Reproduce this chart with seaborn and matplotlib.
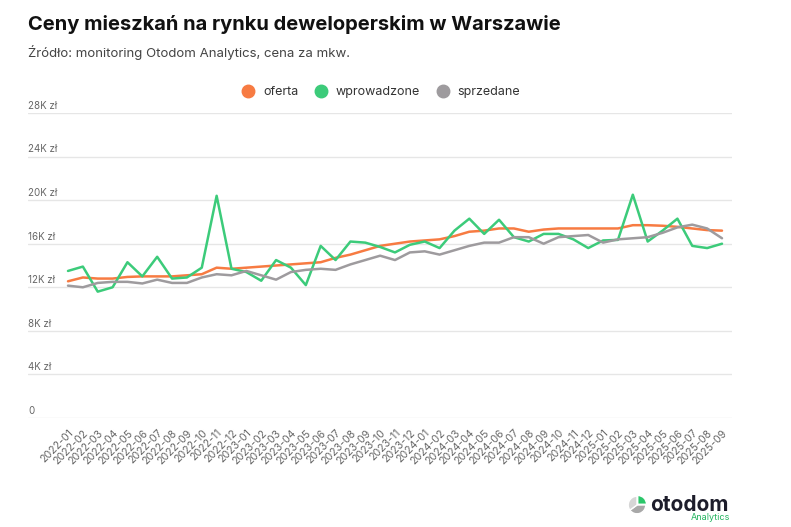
import matplotlib
matplotlib.use("Agg")
import matplotlib.pyplot as plt
import matplotlib.transforms as mtransforms
from matplotlib.lines import Line2D
import pandas as pd
import seaborn as sns

# miesiące 2022-01 .. 2025-09
months = list(pd.period_range("2022-01", "2025-09", freq="M").strftime("%Y-%m"))

# ceny za mkw. w tys. zł
oferta = [12.55, 12.9, 12.8, 12.8, 12.95, 13.0, 13.0, 13.0, 13.1, 13.2,
          13.8, 13.7, 13.8, 13.9, 14.0, 14.1, 14.2, 14.3, 14.7, 15.0,
          15.4, 15.8, 16.0, 16.2, 16.3, 16.4, 16.7, 17.1, 17.2, 17.4,
          17.4, 17.1, 17.3, 17.4, 17.4, 17.4, 17.4, 17.4, 17.7, 17.7,
          17.65, 17.55, 17.4, 17.25, 17.2]
wprowadzone = [13.5, 13.9, 11.6, 12.0, 14.3, 13.0, 14.8, 12.8, 12.9, 13.8,
               20.4, 13.7, 13.4, 12.6, 14.5, 13.8, 12.2, 15.8, 14.5, 16.2,
               16.1, 15.7, 15.2, 15.9, 16.2, 15.6, 17.2, 18.3, 16.9, 18.2,
               16.6, 16.2, 16.9, 16.9, 16.4, 15.6, 16.3, 16.35, 20.5, 16.2,
               17.2, 18.3, 15.8, 15.6, 16.0]
sprzedane = [12.15, 12.0, 12.4, 12.5, 12.5, 12.35, 12.7, 12.4, 12.4, 12.9,
             13.2, 13.1, 13.5, 13.1, 12.7, 13.4, 13.6, 13.7, 13.6, 14.1,
             14.5, 14.9, 14.5, 15.2, 15.3, 15.0, 15.4, 15.8, 16.1, 16.1,
             16.6, 16.6, 16.0, 16.6, 16.7, 16.8, 16.1, 16.4, 16.5, 16.6,
             17.0, 17.5, 17.75, 17.4, 16.5]

series = ["oferta", "wprowadzone", "sprzedane"]
colors = {"oferta": "#F77B42", "wprowadzone": "#3CCB7A", "sprzedane": "#9E9B9E"}
yticks = [0, 4, 8, 12, 16, 20, 24, 28]
ytick_labels = ["0", "4K zł", "8K zł", "12K zł", "16K zł", "20K zł", "24K zł", "28K zł"]

df = pd.DataFrame({"idx": range(len(months)), "miesiac": months,
                   "oferta": oferta, "wprowadzone": wprowadzone,
                   "sprzedane": sprzedane})
long_df = df.melt(id_vars=["idx", "miesiac"], value_vars=series,
                  var_name="seria", value_name="cena")

sns.set_theme(style="white")
plt.rcParams["font.family"] = ["Inter", "DejaVu Sans"]

fig = plt.figure(figsize=(7.91, 5.27), dpi=100)
W, H = 791, 527
ax = fig.add_axes([28 / W, 1 - 418 / H, (732 - 28) / W, (418 - 113) / H])

sns.lineplot(data=long_df, x="idx", y="cena", hue="seria", palette=colors,
             hue_order=series, linewidth=1.8, legend=False, ax=ax)

step = (722 - 68) / 44
ax.set_xlim(-(68 - 28) / step, 44 + (732 - 722) / step)
ax.set_ylim(0, 28)
ax.set_xlabel("")
ax.set_ylabel("")
for s in ax.spines.values():
    s.set_visible(False)

ax.set_yticks(yticks)
ax.set_yticklabels([])
ax.tick_params(axis="y", length=0)
ax.yaxis.grid(True, color="#e6e6e6", linewidth=1)
ax.xaxis.grid(False)
ax.set_axisbelow(True)

off = mtransforms.offset_copy(ax.get_yaxis_transform(), fig=fig, x=0, y=1.5, units="points")
for v, lab in zip(yticks, ytick_labels):
    ax.text(0, v, lab, transform=off, ha="left", va="bottom",
            fontsize=7, color="#666666")

ax.set_xticks(range(len(months)))
ax.set_xticklabels(months, rotation=45, ha="right", rotation_mode="anchor",
                   fontsize=7.6, color="#666666")
ax.tick_params(axis="x", length=0, pad=7)

# tytuł i podtytuł
fig.text(28 / W, 1 - 25 / H, "Ceny mieszkań na rynku deweloperskim w Warszawie",
         fontsize=14.5, fontweight="bold", color="#111111", va="center", ha="left")
fig.text(28 / W, 1 - 52 / H, "Źródło: monitoring Otodom Analytics, cena za mkw.",
         fontsize=9.5, color="#444444", va="center", ha="left")

# legenda
handles = [Line2D([0], [0], marker="o", linestyle="none", markersize=9,
                  markerfacecolor=colors[s], markeredgecolor=colors[s]) for s in series]
fig.legend(handles, series, loc="center", bbox_to_anchor=(378 / W, 1 - 92 / H),
           ncol=3, frameon=False, fontsize=9, handletextpad=0.2,
           columnspacing=0.8, labelcolor="#333333")

# logo otodom
logo_ax = fig.add_axes([626 / W, 1 - 516 / H, 22 / W, 22 / H])
wedges, _ = logo_ax.pie([25, 40, 35], colors=["#2BC66A", "#A8A8A8", "#D6D6D6"],
                        startangle=90, counterclock=False, explode=[0.12, 0, 0])
logo_ax.set_aspect("equal")
fig.text(650 / W, 1 - 505 / H, "otodom", fontsize=15, fontweight="bold",
         color="#1d1d2b", va="center", ha="left")
fig.text(730 / W, 1 - 518 / H, "Analytics", fontsize=6.5, color="#22B35E",
         va="center", ha="right")

fig.savefig("out.png", dpi=100, facecolor="white")
